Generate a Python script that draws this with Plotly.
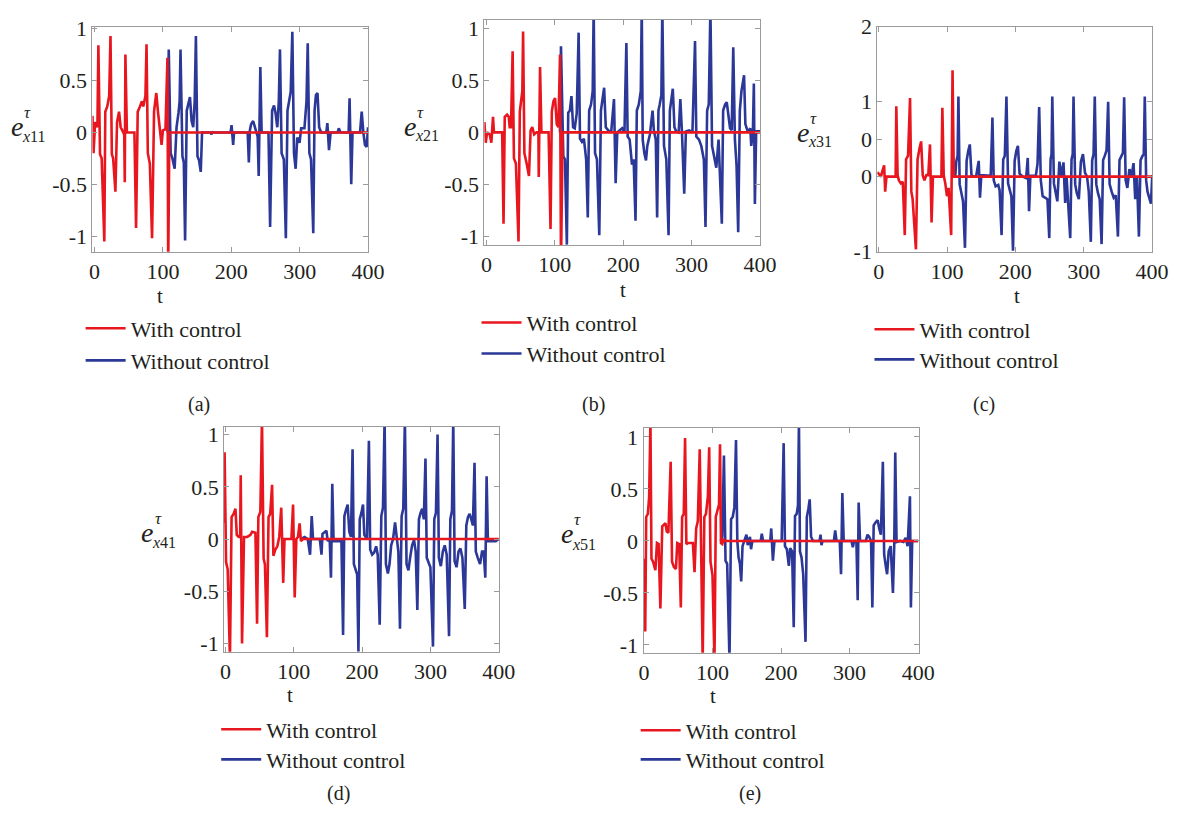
import plotly.graph_objects as go

# ---------------- data: (t, e) ----------------
a_with = [(-3, 0.16), (-1.4, -0.2), (1, 0.1), (4.3, 0.05), (5.7, 0.84), (8.1, -0.21), (10.5, -0.25), (14.4, -1.05),
          (15.8, 0.2), (18.7, 0.25), (21.5, 0.35), (23.4, 0.93), (25.4, -0.21), (27.3, -0.25), (30.6, -0.57), (33, 0.1),
          (35.9, 0.2), (38.3, 0.05), (40.7, 0.02), (43.5, -0.02), (44.3, -0.48), (45.2, 0.75), (47.4, 0.0), (58.4, 0.0),
          (60.8, -0.92), (63.2, 0.2), (66.5, 0.25), (69.4, 0.3), (71.3, 0.25), (74.5, 0.35), (76.1, 0.85), (78, -0.2),
          (80.9, -0.3), (84.2, -1.02), (87.1, 0.2), (90.4, 0.38), (92.8, 0.2), (95.2, 0.05), (98.1, -0.12), (100, 0.02),
          (103.8, 0.03), (106.7, 0.72), (107.8, -1.3), (109.5, 0.0), (400, 0.0)]
a_without = [(107, 0.0), (108.6, 0.8), (111.4, -0.2), (114.3, -0.26), (117.2, -0.35), (120, 0.05), (122.9, 0.19),
             (124.5, 0.3), (125.8, 0.8), (128.6, -0.23), (130.6, -0.29), (132.5, -1.04), (134.9, 0.21), (137.3, 0.27),
             (139.6, 0.34), (142, 0.11), (144.4, 0.05), (146.5, 0.3), (148.3, 0.93), (150.6, -0.23), (153, -0.27),
             (155.4, -0.38), (157.3, 0.0), (170, 0.0), (171, -0.02), (172, 0.01), (173, 0.0), (199, 0.0), (200.4, 0.07),
             (202.8, -0.12), (204, 0.0), (224, 0.0), (225.7, -0.29), (227.2, 0.02), (229, 0.08), (232, 0.11),
             (235.3, 0.02), (238.6, -0.04), (240.1, -0.42), (242.5, 0.63), (244.4, 0.0), (254.4, 0.0), (256.8, -0.91),
             (259.7, 0.21), (262.5, 0.26), (264.9, 0.18), (267.3, 0.05), (269.5, 0.3), (271.2, 0.8), (273.6, -0.2),
             (276.9, -0.26), (279.8, -1.02), (282.2, 0.21), (284.5, 0.3), (286.9, 0.39), (289.3, 0.97), (291.7, -0.2),
             (294.1, -0.35), (296.5, -0.05), (299.8, -0.1), (302.2, 0.04), (307, 0.04), (310, 0.3), (311.8, 0.86),
             (314.2, -0.2), (316.6, -0.26), (319.9, -0.97), (321.8, 0.21), (323.8, 0.36), (326.1, 0.38), (328.5, 0.05),
             (331.4, 0.0), (339, 0.0), (340.5, 0.09), (342.9, -0.17), (345.3, 0.0), (355.5, 0.0), (357.2, 0.04),
             (359.6, 0.0), (371.6, 0.0), (373, 0.33), (375.4, -0.5), (377.3, 0.0), (388.3, 0.0), (390.7, 0.2),
             (393.1, 0.0), (395.5, -0.12), (397.9, -0.14), (400, 0.05)]

b_with = [(-3, 0.1), (-1, -0.1), (1, 0.0), (4.8, -0.02), (7.2, -0.1), (9.6, 0.15), (11, 0.0), (23, 0.0), (25, -0.88),
          (26.8, 0.15), (30.2, 0.17), (32.6, 0.15), (34, 0.05), (35.9, 0.05), (38.3, 0.78), (40.2, -0.25), (43.1, -0.3),
          (46.9, -1.05), (48.8, 0.2), (51.2, 0.3), (52.5, 0.4), (53.6, 0.97), (55.5, -0.2), (58.8, -0.3), (62.2, -0.42),
          (64.6, 0.02), (67, 0.05), (69.8, -0.02), (73.2, 0.0), (76, 0.0), (76.5, -0.43), (78.4, 0.63), (80.4, 0.0),
          (90.9, 0.0), (93.7, -0.93), (95.6, 0.2), (98, 0.3), (100.4, 0.33), (102.8, 0.08), (105.2, 0.05),
          (107.6, 0.75), (109, -1.3), (111.4, 0.0), (400, 0.0)]
b_without = [(107.5, 0.0), (109.0, 0.83), (112.4, -0.23), (114.8, -0.26), (117.6, -1.08), (119.6, 0.19), (122.0, 0.21),
             (124.3, 0.35), (126.7, 0.05), (129.1, 0.04), (132.0, 0.18), (134.8, 0.96), (136.8, -0.06), (139.6, -0.09),
             (142.5, -0.06), (145.8, -0.26), (148.2, -0.82), (150.2, 0.21), (153.0, 0.27), (155.4, 0.40), (156.8, 1.2),
             (158.8, -0.2), (161.6, -0.26), (165.0, -0.99), (167.4, 0.21), (169.7, 0.33), (172.1, 0.43), (174.5, 0.05),
             (179.3, 0.01), (182.6, 0.02), (186.5, 0.32), (188.9, -0.49), (191.3, 0.0), (198.4, 0.04), (201.8, 0.0),
             (204.6, 0.86), (206.5, -0.04), (209.4, -0.07), (212.8, -0.31), (215.2, -0.26), (218.0, -0.85),
             (219.9, 0.21), (222.8, 0.27), (225.7, 0.40), (227.1, 1.2), (228.5, -0.07), (230.9, -0.20), (233.3, -0.27),
             (235.2, -0.13), (239.0, -0.02), (242.9, 0.21), (244.8, 0.02), (247.6, -0.07), (249.6, -0.82),
             (251.5, 0.21), (253.4, 0.27), (255.8, 0.36), (257.2, 1.2), (259.6, -0.13), (263.0, -0.26), (266.3, -0.99),
             (268.2, 0.21), (270.6, 0.36), (272.5, 0.42), (274.9, 0.05), (277.3, 0.01), (281.1, 0.0), (283.5, 0.32),
             (285.9, 0.0), (289.2, -0.59), (291.6, 0.01), (296.4, 0.02), (301.2, 0.0), (305.0, 0.88), (306.9, -0.04),
             (310.8, -0.07), (314.1, -0.13), (317.9, -0.26), (320.3, -0.91), (322.7, 0.21), (325.1, 0.27),
             (327.5, 1.2), (329.9, -0.13), (333.2, -0.26), (336.1, -0.34), (339.4, -0.07), (344.2, -0.88),
             (346.1, 0.21), (349.0, 0.27), (351.4, 0.29), (353.8, 0.18), (356.2, 0.04), (358.6, 0.02), (360.9, 0.82),
             (363.3, -0.07), (365.7, -0.32), (368.1, -0.96), (370.5, 0.21), (372.9, 0.40), (376.7, 0.55),
             (378.6, 0.08), (382.5, 0.0), (385.8, 0.04), (387.2, -0.13), (389.6, 0.0), (391.0, 0.47), (392.5, -0.69),
             (394.4, 0.01), (400, 0.01)]

c_with = [(-2, 0.06), (0.9, 0.02), (3.3, 0.0), (5.6, 0.08), (8.0, 0.15), (9.5, -0.2), (11.4, 0.0), (24.8, 0.0),
          (25.8, 0.94), (27.7, 0.02), (29.6, -0.05), (32.5, -0.09), (35.3, -0.07), (38.2, -0.78), (40.1, 0.23),
          (43, 0.28), (45.9, 1.05), (47.8, -0.2), (49.7, -0.3), (54.5, -0.97), (56.9, 0.23), (59.8, 0.38),
          (62.1, 0.47), (64.5, 0.02), (66.9, -0.05), (69.8, 0.02), (72.6, 0.02), (75.1, 0.43), (77.4, -0.61),
          (79.4, 0.0), (91.8, 0.0), (93.2, 0.92), (95.2, 0.02), (97.5, -0.09), (99.9, -0.26), (102.3, -0.15),
          (106.1, -0.78), (108.1, 1.42), (110, 0.0), (400, 0.0)]
c_without = [(112, 0.0), (113.5, 0.2), (115.5, 0.28), (116.7, 1.07), (118.5, -0.1), (121, -0.2), (123.5, -0.33),
             (126.3, -0.95), (128.7, 0.21), (131, 0.34), (133.4, 0.43), (135.8, 0.02), (139, 0.0), (142.5, 0.0),
             (146.4, 0.21), (148.3, -0.28), (150.2, 0.02), (164, 0.01), (166.5, 0.79), (168.4, -0.05), (171.2, -0.13),
             (175, -0.11), (177, -0.18), (179.9, -0.78), (182.3, 0.23), (184.6, 0.28), (187.0, 1.07), (189.4, -0.09),
             (191.8, -0.2), (194.2, -0.26), (196.6, -0.99), (199, 0.21), (201.4, 0.34), (203.8, 0.41), (206.2, 0.04),
             (211, 0.0), (215.8, -0.02), (218.2, 0.25), (220.1, -0.46), (222, 0.01), (230, 0.01), (232.5, 0.17),
             (234.9, 0.93), (237.3, -0.05), (240, -0.26), (244, -0.28), (247, -0.3), (249.7, -0.82), (251.6, 0.23),
             (253, 0.3), (254.1, 1.07), (256.5, -0.09), (259, -0.2), (261.5, -0.33), (264.5, 0.2), (267.5, 0.0),
             (270.5, 0.19), (273, -0.35), (275, 0.0), (280.4, -0.82), (282.3, 0.23), (284, 0.3), (285.2, 1.07),
             (287.6, -0.1), (290, -0.22), (293, -0.3), (296, 0.2), (299, 0.3), (302, 0.05), (305, 0.0), (307.5, -0.2),
             (310.5, -0.87), (312.5, 0.22), (314.5, 0.3), (316.3, 1.07), (318.5, -0.1), (321, -0.22), (323.5, -0.3),
             (326.3, -0.9), (328.5, 0.22), (331, 0.28), (333.5, 0.35), (335.9, 1.0), (338, -0.1), (341, -0.2),
             (344, -0.28), (347, -0.25), (350.2, -0.8), (352.5, 0.22), (355, 0.27), (357.5, 0.32), (359.3, 1.06),
             (361.5, -0.05), (364, -0.15), (367, 0.1), (370, 0.0), (373, 0.18), (375.5, -0.3), (378, 0.0),
             (380.9, -0.8), (383.3, 0.22), (385.7, 0.27), (388, 0.3), (389.5, 1.07), (391.5, -0.05), (393.5, -0.2),
             (396, -0.3), (398.5, -0.36), (400.5, 0.02)]

d_with = [(-2.5, 0.15), (-1.2, 0.83), (0.9, -0.22), (3.3, -0.29), (6.6, -1.15), (9.0, 0.21), (11.9, 0.24),
          (14.7, 0.29), (16.6, 0.04), (19.5, 0.02), (21.5, 0.02), (22.4, 0.61), (24.3, -1.0), (27.2, 0.02),
          (31.9, 0.02), (36.7, 0.04), (39.1, 0.07), (43.9, 0.06), (46.3, -0.81), (48.2, 0.21), (51.1, 0.26),
          (53.5, 1.15), (55.9, -0.19), (57.8, -0.24), (60.7, -0.94), (63.1, 0.21), (65.5, 0.24), (68.3, 0.52),
          (70.2, -0.16), (73.1, -0.1), (76.0, -0.07), (78.8, 0.02), (81.7, 0.3), (84.6, -0.42), (86.5, 0.0),
          (96.6, 0.0), (99.0, 0.33), (101.4, -0.56), (103.8, 0.0), (106.2, 0.02), (108.6, 0.15), (110.5, -0.02),
          (113.4, 0.0), (400, 0.0)]
d_without = [(110.9, 0.0), (115.7, 0.02), (120.5, 0.0), (123.9, -0.15), (126.3, 0.22), (128.2, 0.0), (138.2, 0.0),
             (140.6, -0.15), (142.1, 0.05), (144.9, 0.07), (147.8, 0.08), (149.7, -0.02), (152.6, 0.0),
             (154.5, -0.37), (156.4, 0.53), (158.3, -0.02), (169.8, -0.02), (172.2, -0.92), (174.1, 0.22),
             (176.5, 0.28), (178.9, 0.33), (181.3, 0.07), (183.7, 0.02), (186.1, 0.86), (188.0, -0.24),
             (190.9, -0.3), (192.8, -0.34), (194.7, -1.08), (196.6, 0.19), (199.0, 0.25), (201.4, 0.33),
             (203.3, 0.04), (207.2, 0.0), (210.0, 0.94), (211.9, -0.1), (214.8, -0.15), (217.7, -0.13), (220.6, -0.07),
             (222.9, -0.15), (225.8, -0.82), (228.2, 0.22), (230.6, 0.3), (233.0, 1.15), (234.9, -0.24),
             (237.8, -0.33), (240.2, -0.24), (242.6, -0.06), (245.4, 0.0), (248.3, 0.16), (251.2, -0.01),
             (253.1, -0.12), (255.5, -0.86), (257.9, 0.22), (260.3, 0.29), (262.7, 1.15), (265.1, -0.24),
             (267.9, -0.3), (270.3, -0.18), (273.2, -0.06), (276.1, -0.01), (278.5, -0.12), (280.9, -0.68),
             (283.2, 0.19), (285.6, 0.25), (288.0, 0.29), (290.4, 0.19), (292.8, 0.77), (294.7, -0.18),
             (297.6, -0.24), (300.0, -0.27), (303.8, -1.03), (305.7, 0.19), (308.1, 0.25), (310.5, 1.0),
             (312.4, -0.18), (315.3, -0.26), (318.2, -0.12), (321.0, -0.06), (323.9, -0.15), (327.3, -0.93),
             (329.2, 0.19), (331.6, 0.27), (333.5, 1.15), (335.4, -0.21), (338.3, -0.27), (341.2, -0.12),
             (344.0, -0.09), (346.9, -0.18), (350.3, -0.67), (352.6, 0.13), (355.0, 0.21), (357.4, 0.24),
             (359.8, 0.19), (362.2, 0.13), (364.6, 0.73), (366.5, -0.12), (369.4, -0.18), (372.7, -0.24),
             (375.6, -0.12), (378.0, -0.12), (380.4, -0.37), (382.3, 0.6), (384.2, -0.02), (390.9, -0.02),
             (395.7, -0.02), (400, 0.0)]

e_with = [(0, -0.17), (1.9, -0.87), (3.3, 0.23), (5.7, 0.26), (7.6, 0.42), (9.5, 1.15), (11, -0.17), (13.3, -0.2),
          (16.7, -0.28), (19, -0.02), (21.4, -0.03), (24, -0.65), (26.7, 0.14), (28.6, 0.15), (31.4, 0.17),
          (33.3, 0.09), (35.7, 0.08), (39, 0.76), (41, -0.2), (43.8, -0.25), (46.7, -0.27), (48.6, -0.02),
          (51.4, -0.03), (53.8, -0.64), (55.7, 0.23), (58.1, 0.26), (60, 0.99), (61.9, -0.03), (64.3, -0.02),
          (71.4, -0.02), (73.8, -0.3), (76.2, 0.12), (78.6, 0.19), (81.4, 0.88), (83.3, -0.2), (85.7, -1.15),
          (88.1, 0.23), (90.5, 0.26), (93.3, 0.43), (95.2, 0.9), (97.1, -0.2), (100, -0.33), (102.9, -1.15),
          (104.8, 0.23), (107.1, 0.29), (109.5, 0.35), (111, 0.93), (112.4, -0.02), (114.3, -0.03), (116, 0.02),
          (118, 0.0), (400, 0.0)]
e_without = [(111.9, 0.0), (114.3, 0.04), (116.7, 0.82), (119.0, -0.19), (121.4, -0.22), (124.8, -1.15), (127.1, 0.21),
             (129.5, 0.23), (131.9, 0.32), (134.3, 0.97), (136.2, 0.0), (138.1, -0.16), (140.0, -0.22),
             (141.9, -0.39), (143.8, -0.05), (146.6, 0.01), (149.5, 0.06), (151.4, -0.04), (154.7, 0.04),
             (156.2, -0.08), (158.1, 0.0), (170.4, 0.0), (171.9, 0.07), (173.8, 0.0), (184.3, 0.0), (185.7, 0.12),
             (188.1, -0.19), (190.4, 0.0), (200.9, 0.0), (203.8, 0.94), (205.7, -0.05), (208.5, -0.08),
             (211.4, -0.24), (213.3, -0.07), (216.1, -0.1), (218.5, -0.83), (220.4, 0.24), (222.8, 0.26),
             (224.7, 0.34), (226.1, 1.15), (227.6, -0.1), (229.9, -0.16), (232.3, -0.32), (235.7, -0.97),
             (237.6, 0.23), (239.9, 0.31), (241.8, 0.4), (243.8, 0.04), (246.6, 0.0), (256.1, 0.0), (257.6, 0.06),
             (259.0, -0.04), (260.4, 0.0), (277.1, 0.0), (279.0, 0.1), (280.9, 0.0), (285.6, 0.0), (287.5, -0.32),
             (289.4, 0.46), (291.4, 0.0), (302.8, 0.0), (304.7, -0.06), (306.6, 0.0), (309.9, 0.0), (311.8, -0.57),
             (313.2, 0.37), (315.2, 0.0), (323.7, 0.0), (326.1, 0.06), (328.5, 0.04), (331.3, 0.0), (333.2, -0.64),
             (335.1, 0.15), (338.0, 0.18), (340.9, 0.2), (343.2, 0.12), (345.6, 0.06), (348.5, 0.76), (350.4, -0.13),
             (352.3, -0.22), (354.7, -0.32), (357.0, -0.1), (359.9, -0.05), (363.2, -0.5), (365.1, -0.04),
             (366.6, 0.85), (368.5, -0.01), (373.7, 0.0), (378.5, -0.01), (381.8, 0.03), (384.6, -0.05),
             (388.0, 0.43), (389.4, -0.64), (391.3, 0.0), (400, 0.0)]

y_ticks_std = [-1, -0.5, 0, 0.5, 1]
y_ticktext_std = ["-1", "-0.5", "0", "0.5", "1"]
y_ticks_c = [-1, 0, 0.5, 1, 2]
y_ticktext_c = ["-1", "0", "0", "1", "2"]
x_ticks = [0, 100, 200, 300, 400]
series_names = ["With control", "Without control"]

# ---------------- layout helpers (pixel geometry) ----------------
W, H = 1189, 824
RED = "#e8161e"
BLUE = "#2b3897"
TXT = "#231f20"
FONT = "Liberation Serif, Times New Roman, serif"
AX = "#9b9b9b"


def fx(px):
    return px / W


def fy(py):
    return 1 - py / H


panels = [
    dict(key="a", with_=a_with, without=a_without, sub="11", xd=(89, 370), yd=(15, 247), xr=[-3, 400.6],
         yr=[-1.15, 1.02], yt=y_ticks_std, ytt=y_ticktext_std, e=(12, 118), tau=(23, 104), subp=(15, 128),
         t=(158, 293), cap=(197, 404), leg=(77, 326, 359)),
    dict(key="b", with_=b_with, without=b_without, sub="21", xd=(488, 769), yd=(8, 240), xr=[-3, 400.6],
         yr=[-1.084, 1.084], yt=y_ticks_std, ytt=y_ticktext_std, e=(412, 118), tau=(423, 104), subp=(415, 127),
         t=(629, 286), cap=(599, 404), leg=(480, 320, 352)),
    dict(key="c", with_=c_with, without=c_without, sub="31", xd=(888, 1168), yd=(15, 247), xr=[-2, 400.6],
         yr=[-1.003, 2.003], yt=y_ticks_c, ytt=y_ticktext_c, e=(812, 124), tau=(823, 110), subp=(815, 133),
         t=(1030, 293), cap=(997, 404), leg=(880, 327, 358)),
    dict(key="d", with_=d_with, without=d_without, sub="41", xd=(223, 503), yd=(427, 659), xr=[-2, 400.6],
         yr=[-1.08, 1.077], yt=y_ticks_std, ytt=y_ticktext_std, e=(145, 536), tau=(156, 522), subp=(148, 546),
         t=(290, 704), cap=(339, 805), leg=(215, 739, 770)),
    dict(key="e", with_=e_with, without=e_without, sub="51", xd=(650, 930), yd=(428, 660), xr=[-0.6, 400.6],
         yr=[-1.075, 1.09], yt=y_ticks_std, ytt=y_ticktext_std, e=(572, 537), tau=(583, 523), subp=(575, 548),
         t=(721, 705), cap=(758, 805), leg=(642, 740, 770)),
]

fig = go.Figure()
annotations = []
layout = dict(width=W, height=H, margin=dict(l=0, r=0, t=0, b=0), autosize=False,
              paper_bgcolor="white", plot_bgcolor="white", showlegend=True,
              font=dict(family=FONT, color=TXT, size=21))

tick_font = dict(family=FONT, size=22, color=TXT)
leg_font = dict(family=FONT, size=22, color=TXT)

for i, p in enumerate(panels):
    n = i + 1
    xa = "x" if n == 1 else f"x{n}"
    ya = "y" if n == 1 else f"y{n}"
    xkey = "xaxis" if n == 1 else f"xaxis{n}"
    ykey = "yaxis" if n == 1 else f"yaxis{n}"
    lg_with = "legend" if n == 1 else f"legend{2 * n - 1}"
    lg_without = f"legend{2 * n}"

    tw, vw = zip(*p["with_"])
    to, vo = zip(*p["without"])
    fig.add_trace(go.Scatter(x=list(to), y=list(vo), mode="lines", name=series_names[1],
                             line=dict(color=BLUE, width=2.6), xaxis=xa, yaxis=ya, legend=lg_without))
    fig.add_trace(go.Scatter(x=list(tw), y=list(vw), mode="lines", name=series_names[0],
                             line=dict(color=RED, width=2.6), xaxis=xa, yaxis=ya, legend=lg_with))

    layout[xkey] = dict(domain=[fx(p["xd"][0]), fx(p["xd"][1])], anchor=ya, range=p["xr"],
                        tickvals=x_ticks, ticktext=[str(v) for v in x_ticks], showline=True, linecolor=AX,
                        linewidth=1, mirror="ticks", ticks="inside", ticklen=5, tickcolor=AX,
                        tickfont=tick_font, showgrid=False, zeroline=False, fixedrange=True)
    layout[ykey] = dict(domain=[fy(p["yd"][1]), fy(p["yd"][0])], anchor=xa, range=p["yr"],
                        tickvals=p["yt"], ticktext=p["ytt"], showline=True, linecolor=AX, linewidth=1,
                        mirror="ticks", ticks="inside", ticklen=5, tickcolor=AX, tickfont=tick_font,
                        showgrid=False, zeroline=False, fixedrange=True)

    lx, ly1, ly2 = p["leg"]
    for lg, ly in ((lg_with, ly1), (lg_without, ly2)):
        layout[lg] = dict(x=fx(lx), y=fy(ly), xanchor="left", yanchor="middle", xref="paper", yref="paper",
                          bgcolor="rgba(0,0,0,0)", borderwidth=0, font=leg_font, orientation="v",
                          itemwidth=40)

    # y-axis label e^tau_{x..}
    annotations.append(dict(text="<i>e</i>", x=fx(p["e"][0]), y=fy(p["e"][1]), xref="paper", yref="paper",
                            xanchor="center", yanchor="middle", showarrow=False,
                            font=dict(family=FONT, size=28, color=TXT)))
    annotations.append(dict(text="<i>τ</i>", x=fx(p["tau"][0]), y=fy(p["tau"][1]), xref="paper", yref="paper",
                            xanchor="center", yanchor="middle", showarrow=False,
                            font=dict(family=FONT, size=17, color=TXT)))
    annotations.append(dict(text="<i>x</i>" + p["sub"], x=fx(p["subp"][0]), y=fy(p["subp"][1]), xref="paper",
                            yref="paper", xanchor="left", yanchor="middle", showarrow=False,
                            font=dict(family=FONT, size=16, color=TXT)))
    # x-axis title
    annotations.append(dict(text="t", x=fx(p["t"][0]), y=fy(p["t"][1]), xref="paper", yref="paper",
                            xanchor="center", yanchor="middle", showarrow=False,
                            font=dict(family=FONT, size=21, color=TXT)))
    # caption
    annotations.append(dict(text="(" + p["key"] + ")", x=fx(p["cap"][0]), y=fy(p["cap"][1]), xref="paper",
                            yref="paper", xanchor="center", yanchor="middle", showarrow=False,
                            font=dict(family=FONT, size=20, color=TXT)))

layout["annotations"] = annotations
fig.update_layout(**layout)
fig.write_html("out.html")
